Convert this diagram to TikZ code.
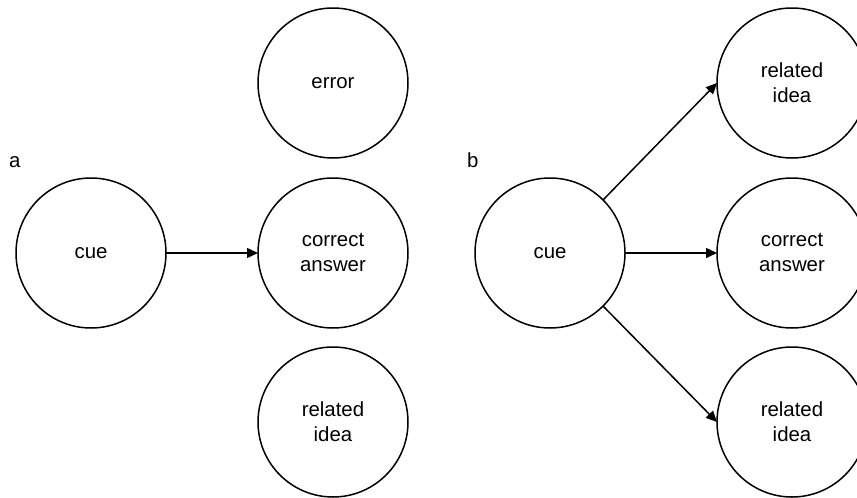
\documentclass[tikz,border=0pt]{standalone}
\usepackage{fontspec}
\setmainfont{Liberation Sans}
\usetikzlibrary{arrows.meta}
\begin{document}
\begin{tikzpicture}[x=1pt,y=-1pt,
  idea/.style={circle,draw,line width=1.5pt,minimum size=150pt,inner sep=0pt,outer sep=0pt,
    align=center,font=\fontsize{20.4}{25}\selectfont},
  tag/.style={anchor=west,inner sep=0pt,font=\fontsize{20.4}{25}\selectfont},
  link/.style={line width=1.5pt,-{Triangle[length=11pt,width=10pt]}}]
\clip (0,0) rectangle (857,498);
\useasboundingbox (0,0) rectangle (857,498);
% panel a
\node[tag] (la) at (9,162) {a};
\node[idea] (cueA) at (91,253) {cue};
\node[idea] (errA) at (333,83) {error};
\node[idea] (corA) at (333,253) {correct\\answer};
\node[idea] (relA) at (333,422) {related\\idea};
\draw[link] (cueA.east) -- (corA.west);
% panel b
\node[tag] (lb) at (467,160) {b};
\node[idea] (cueB) at (550,253) {cue};
\node[idea] (relB1) at (792,83) {related\\idea};
\node[idea] (corB) at (792,253) {correct\\answer};
\node[idea] (relB2) at (792,422) {related\\idea};
\draw[link] (cueB.north east) -- (relB1.west);
\draw[link] (cueB.east) -- (corB.west);
\draw[link] (cueB.south east) -- (relB2.west);
\end{tikzpicture}
\end{document}
